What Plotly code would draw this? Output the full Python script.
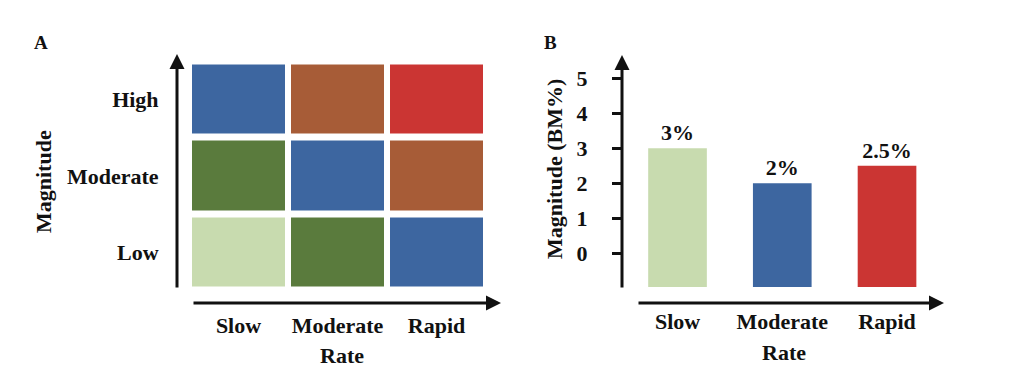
import plotly.graph_objects as go

# ---------------- data ----------------
rate_labels = ["Slow", "Moderate", "Rapid"]
magnitude_labels = ["Low", "Moderate", "High"]
# colour-class index for each cell of the matrix (rows: Low, Moderate, High)
matrix_low = [0, 1, 2]
matrix_moderate = [1, 2, 3]
matrix_high = [2, 3, 4]
class_colors = ["#C8DBAF", "#5A7B3D", "#3D66A0", "#A75C37", "#CB3533"]

bar_values = [3, 2, 2.5]          # Magnitude (BM%)
bar_colors = ["#C8DBAF", "#3D66A0", "#CB3533"]
y_ticks = [0, 1, 2, 3, 4, 5]
bar_floor = -0.96                 # bars are drawn from the bottom of the axis

OFF = 8                           # page body margin
W, H = 1024 - OFF, 373 - OFF
FONT = "Liberation Serif"
INK = "#111"

def px(x):
    return (x - OFF) / W

def py(y):
    return 1 - (y - OFF) / H

fig = go.Figure()

# ---------------- panel A: matrix ----------------
n = len(class_colors)
cs = []
for i, c in enumerate(class_colors):
    cs.append([i / n, c])
    cs.append([(i + 1) / n, c])

fig.add_trace(go.Heatmap(
    z=[matrix_low, matrix_moderate, matrix_high],
    x=rate_labels, y=magnitude_labels,
    colorscale=cs, zmin=-0.5, zmax=n - 0.5, showscale=False,
    xgap=6, ygap=7, xaxis="x", yaxis="y", hoverinfo="skip",
))

# ---------------- panel B: bars ----------------
fig.add_trace(go.Bar(
    x=rate_labels,
    y=[v - bar_floor for v in bar_values],
    base=bar_floor,
    marker=dict(color=bar_colors, line=dict(width=0)),
    width=0.56,
    text=[f"{v:g}%" for v in bar_values],
    textposition="outside",
    textfont=dict(family=FONT, size=22, color=INK, weight="bold"),
    cliponaxis=False,
    xaxis="x2", yaxis="y2",
))

tickfont = dict(family=FONT, size=22, color=INK, weight="bold")

fig.update_layout(
    width=W, height=H,
    margin=dict(l=0, r=0, t=0, b=0),
    paper_bgcolor="white", plot_bgcolor="white",
    showlegend=False,
    font=dict(family=FONT, color=INK),
    xaxis=dict(
        domain=[px(189), px(486)], anchor="y",
        showgrid=False, zeroline=False, showline=False,
        ticks="outside", ticklen=15, tickcolor="rgba(0,0,0,0)",
        tickfont=tickfont, fixedrange=True,
    ),
    yaxis=dict(
        domain=[py(290.5), py(61.5)], anchor="x",
        showgrid=False, zeroline=False, showline=False,
        ticks="outside", ticklen=25, tickcolor="rgba(0,0,0,0)",
        tickfont=tickfont, fixedrange=True,
    ),
    xaxis2=dict(
        domain=[px(622), px(939.4)], anchor="y2",
        range=[-0.53, 2.5],
        showgrid=False, zeroline=False, showline=False,
        ticks="outside", ticklen=15, tickcolor="rgba(0,0,0,0)",
        tickfont=tickfont, fixedrange=True,
    ),
    yaxis2=dict(
        domain=[py(287), py(57)], anchor="x2",
        range=[bar_floor, 5.6],
        tickmode="array", tickvals=y_ticks,
        showgrid=False, zeroline=False, showline=False,
        ticks="outside", ticklen=9, tickwidth=3, tickcolor=INK,
        ticklabelstandoff=20,
        tickfont=dict(family=FONT, size=22, color=INK, weight="bold"),
        fixedrange=True,
    ),
)

ann = []
arrow = dict(showarrow=True, arrowhead=2, arrowsize=1, arrowwidth=3,
             arrowcolor=INK, xref="paper", yref="paper", text="")
# panel A arrows
ann.append(dict(arrow, x=px(177), y=py(54), ax=0, ay=235))
ann.append(dict(arrow, x=px(501), y=py(303), ax=-309, ay=0))
# panel B arrows
ann.append(dict(arrow, x=px(622), y=py(55), ax=0, ay=234))
ann.append(dict(arrow, x=px(944), y=py(303), ax=-307, ay=0))

big = dict(family=FONT, size=22, color=INK, weight="bold")
small = dict(family=FONT, size=19, color=INK, weight="bold")
txt = dict(showarrow=False, xref="paper", yref="paper",
           xanchor="center", yanchor="middle")
ann.append(dict(txt, text="A", x=px(41), y=py(42), font=small))
ann.append(dict(txt, text="B", x=px(550), y=py(42), font=small))
ann.append(dict(txt, text="Magnitude", x=px(43), y=py(182), textangle=-90, font=big))
ann.append(dict(txt, text="Rate", x=px(342), y=py(355), font=big))
ann.append(dict(txt, text="Magnitude (BM%)", x=px(554), y=py(169), textangle=-90, font=big))
ann.append(dict(txt, text="Rate", x=px(784), y=py(352), font=big))
fig.update_layout(annotations=ann)

fig.write_html("out.html")
